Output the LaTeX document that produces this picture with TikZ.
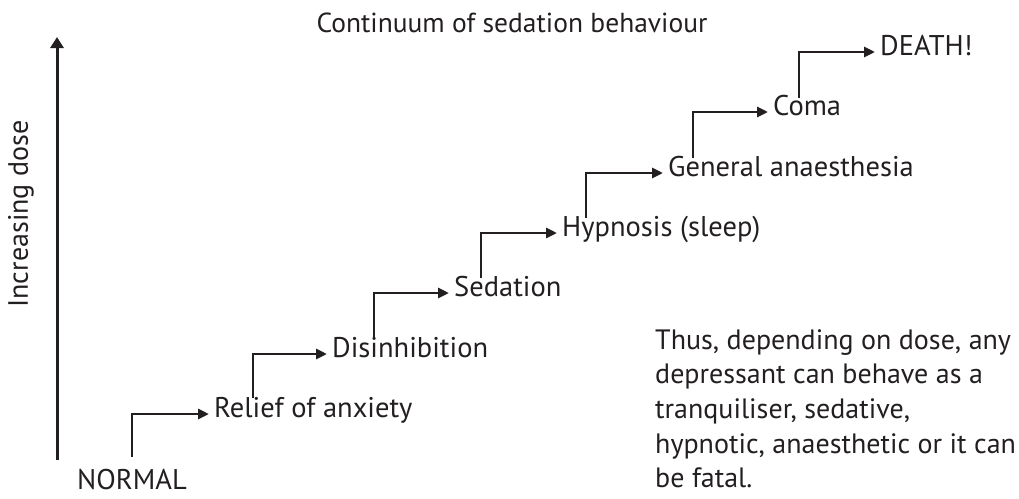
\documentclass[tikz,border=0pt]{standalone}
\usepackage{fontspec}
\setmainfont{PT Sans}
\usetikzlibrary{arrows.meta}
\definecolor{ink}{HTML}{231F20}
\tikzset{
  lbl/.style={anchor=west, inner xsep=5pt, inner ysep=0pt, text height=0.69em, text depth=0pt, font=\fontsize{28.5}{33}\selectfont, text=ink},
  riser/.style={draw=ink, line width=2pt},
  tread/.style={draw=ink, line width=2.8pt, line cap=rect, -{Triangle[length=11pt,width=10pt]}},
  axisarrow/.style={draw=ink, line width=3pt, -{Triangle[length=11pt,width=13pt]}}
}
\begin{document}
\begin{tikzpicture}[x=1pt, y=-1pt]
\useasboundingbox (0,0) rectangle (1019,498);
% title
\node[font=\fontsize{27.5}{32}\selectfont, text=ink, anchor=base] (title) at (512,32) {Continuum of sedation behaviour};
% axis
\coordinate (ax0) at (57,460);
\coordinate (ax1) at (57,37);
\draw[axisarrow] (ax0) -- (ax1);
\node[rotate=90, font=\fontsize{28}{32}\selectfont, text=ink] (ylab) at (21,214) {Increasing dose};
% start
\node[font=\fontsize{28.5}{33}\selectfont, text=ink, anchor=base, inner sep=0pt, text depth=0pt] (n0) at (132,489) {NORMAL};
% steps
\node[lbl] (n1) at (209,414) {Relief of anxiety};
\node[lbl] (n2) at (327,354) {Disinhibition};
\node[lbl] (n3) at (449,293) {Sedation};
\node[lbl] (n4) at (557,233) {Hypnosis (sleep)};
\node[lbl] (n5) at (663,173) {General anaesthesia};
\node[lbl] (n6) at (768,112) {Coma};
\node[lbl] (n7) at (875,52) {DEATH!};
\coordinate (s1) at (132,457);
\coordinate (s2) at (253,398);
\coordinate (s3) at (374,338);
\coordinate (s4) at (481,278);
\coordinate (s5) at (586,218);
\coordinate (s6) at (693,158);
\coordinate (s7) at (799,98);
\foreach \i in {1,...,7}{
  \draw[riser] (s\i) -- (s\i |- n\i.west);
  \draw[tread] (s\i |- n\i.west) -- (n\i.west);
}
% note
\node[anchor=north west, inner sep=0pt, align=left, font=\fontsize{28}{34.7}\selectfont, text=ink] (note) at (655,329)
{Thus, depending on dose, any\\depressant can behave as a\\tranquiliser, sedative,\\hypnotic, anaesthetic or it can\\be fatal.};
\end{tikzpicture}
\end{document}
